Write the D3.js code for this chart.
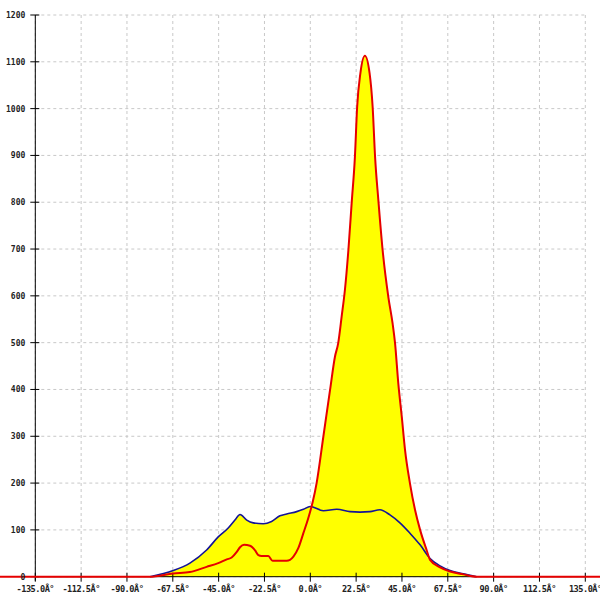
<!DOCTYPE html>
<html><head><meta charset="utf-8">
<script src="https://cdn.jsdelivr.net/npm/d3@7"></script>
<style>body{margin:0;background:#fff}svg{display:block}</style>
</head><body>
<svg id="c" width="600" height="600"></svg>
<script>
const xTicks = [-135, -112.5, -90, -67.5, -45, -22.5, 0, 22.5, 45, 67.5, 90, 112.5, 135];
const xTickLabels = ["-135.0Â°","-112.5Â°","-90.0Â°","-67.5Â°","-45.0Â°","-22.5Â°","0.0Â°","22.5Â°","45.0Â°","67.5Â°","90.0Â°","112.5Â°","135.0Â°"];
const yTicks = [0,100,200,300,400,500,600,700,800,900,1000,1100,1200];

const blueX = [-78.7,-67.3,-59.1,-50.9,-45.2,-40.3,-37,-34.5,-31.2,-28,-23.1,-19,-14.9,-11.6,-6.7,-3.4,-0.1,6.4,13,19.5,24.4,29.3,34.2,39.1,44,48.9,53.9,58.8,63.7,68.6,75.1,81.7];
const blueY = [0,13,29,57,85,104,121,133,121,115,113,118,130,134,139,144,150,141,144,139,138,139,143,132,115,93,68,39,23,13,6,0];

const redX = [-153,-78.7,-67.3,-59.1,-50.9,-45.2,-41,-38.6,-36.1,-34.5,-32.5,-29.6,-27.1,-25.5,-23.9,-20.6,-18.5,-11.6,-8.3,-5.9,-3.4,-1,1.2,3.1,6.4,9.7,12.1,13.7,15.4,17,18.7,20.3,21.9,23,24.6,26.8,29.1,30.6,31.8,33.4,35.5,38.3,40.4,41.6,43.2,44.9,46.5,48.9,51.4,53.9,57.1,58.8,63.7,68.6,75.1,81.7,143];
const redY = [0,0,7,10,21,29,37,41,53,63,68,66,56,46,44,44,34,34,43,61,93,125,160,200,299,399,470,499,556,613,698,798,897,1004,1076,1113,1076,1004,897,805,698,598,541,499,413,342,271,200,143,100,57,36,20,11,5,0,0];

const L=35.3, R=585.3, T=15, B=576.7;
const x = d3.scaleLinear().domain([-135,135]).range([L,R]);
const y = d3.scaleLinear().domain([0,1200]).range([B,T]);
const svg = d3.select("#c");

// grid
svg.append("g").selectAll("line").data(xTicks).join("line")
  .attr("x1",d=>x(d)).attr("x2",d=>x(d)).attr("y1",T).attr("y2",B)
  .attr("stroke","#c8c8c8").attr("stroke-dasharray","3,3");
svg.append("g").selectAll("line").data(yTicks).join("line")
  .attr("x1",L).attr("x2",R).attr("y1",d=>y(d)).attr("y2",d=>y(d))
  .attr("stroke","#c8c8c8").attr("stroke-dasharray","3,3");

const blue = blueX.map((v,i)=>[v,blueY[i]]);
const red = redX.map((v,i)=>[v,redY[i]]);
const area = d3.area().x(d=>x(d[0])).y0(y(0)).y1(d=>y(d[1])).curve(d3.curveMonotoneX);
const line = d3.line().x(d=>x(d[0])).y(d=>y(d[1])).curve(d3.curveMonotoneX);

svg.append("path").attr("d",area(blue)).attr("fill","#ffff00");
svg.append("path").attr("d",area(red.filter(d=>d[0]>-140&&d[0]<140))).attr("fill","#ffff00");

// axes
svg.append("line").attr("x1",L).attr("x2",L).attr("y1",T).attr("y2",B+4).attr("stroke","#000");
svg.append("line").attr("x1",L).attr("x2",R).attr("y1",B).attr("y2",B).attr("stroke","#000");
svg.append("g").selectAll("line").data(yTicks).join("line")
  .attr("x1",L-5).attr("x2",L+4).attr("y1",d=>y(d)).attr("y2",d=>y(d)).attr("stroke","#000");
svg.append("g").selectAll("line").data(xTicks).join("line")
  .attr("x1",d=>x(d)).attr("x2",d=>x(d)).attr("y1",B-4).attr("y2",B+5).attr("stroke","#000");

svg.append("path").attr("d",line(blue)).attr("fill","none").attr("stroke","#141496").attr("stroke-width",1.6);
svg.append("path").attr("d",line(red)).attr("fill","none").attr("stroke","#e60000").attr("stroke-width",2);

// labels
svg.append("g").selectAll("text").data(yTicks).join("text")
  .attr("x",L-10).attr("y",d=>y(d)+3).attr("text-anchor","end")
  .attr("font-family","DejaVu Sans Mono").attr("font-weight","bold").attr("font-size",8)
  .attr("fill","#222").text(d=>d);
svg.append("g").selectAll("text").data(xTicks).join("text")
  .attr("x",d=>x(d)).attr("y",592).attr("text-anchor","middle")
  .attr("font-family","DejaVu Sans Mono").attr("font-weight","bold").attr("font-size",8.6)
  .attr("letter-spacing","-0.5")
  .attr("fill","#222").text((d,i)=>xTickLabels[i]);
</script>
</body></html>
